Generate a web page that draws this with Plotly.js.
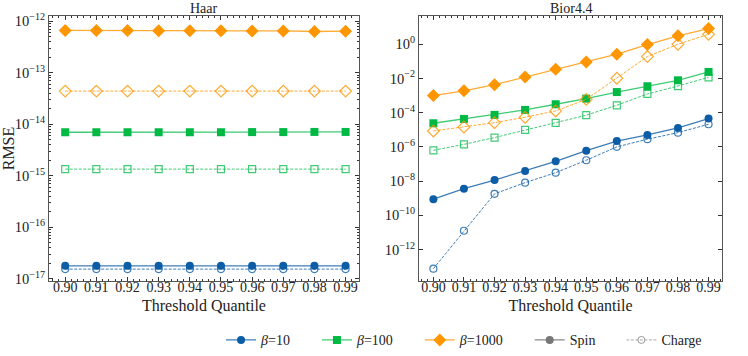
<!DOCTYPE html>
<html>
<head>
<meta charset="utf-8">
<script src="https://cdn.plot.ly/plotly-3.0.1.min.js"></script>
<style>
  body { margin: 0; background: #fff; }
  #chart { width: 748px; height: 356px; }
</style>
</head>
<body>
<div id="chart"></div>
<script>
document.addEventListener('DOMContentLoaded', function () {
    const quantiles = [0.90, 0.91, 0.92, 0.93, 0.94, 0.95, 0.96, 0.97, 0.98, 0.99];
    const quantileLabels = ['0.90', '0.91', '0.92', '0.93', '0.94', '0.95', '0.96', '0.97', '0.98', '0.99'];

    // Haar panel
    const haarSpin10 = [1.8e-17, 1.8e-17, 1.8e-17, 1.8e-17, 1.8e-17, 1.8e-17, 1.8e-17, 1.8e-17, 1.8e-17, 1.8e-17];
    const haarCharge10 = [1.55e-17, 1.55e-17, 1.55e-17, 1.55e-17, 1.55e-17, 1.55e-17, 1.55e-17, 1.55e-17, 1.55e-17, 1.55e-17];
    const haarSpin100 = [7.0e-15, 7.0e-15, 7.0e-15, 7.0e-15, 7.0e-15, 7.0e-15, 7.05e-15, 7.05e-15, 7.1e-15, 7.1e-15];
    const haarCharge100 = [1.35e-15, 1.35e-15, 1.35e-15, 1.35e-15, 1.35e-15, 1.35e-15, 1.35e-15, 1.35e-15, 1.35e-15, 1.35e-15];
    const haarSpin1000 = [6.6e-13, 6.6e-13, 6.6e-13, 6.55e-13, 6.5e-13, 6.5e-13, 6.45e-13, 6.45e-13, 6.3e-13, 6.4e-13];
    const haarCharge1000 = [4.4e-14, 4.4e-14, 4.4e-14, 4.4e-14, 4.4e-14, 4.4e-14, 4.4e-14, 4.4e-14, 4.4e-14, 4.4e-14];

    // Bior4.4 panel
    const biorSpin10 = [8.7e-10, 3.6e-9, 1.15e-8, 3.9e-8, 1.43e-7, 6.0e-7, 2.2e-6, 5.0e-6, 1.28e-5, 4.5e-5];
    const biorCharge10 = [7.6e-14, 1.25e-11, 1.8e-9, 8.1e-9, 3.1e-8, 1.65e-7, 1.0e-6, 2.8e-6, 6.8e-6, 2.1e-5];
    const biorSpin100 = [2.4e-5, 4.3e-5, 7.4e-5, 1.45e-4, 3.1e-4, 6.6e-4, 1.6e-3, 3.5e-3, 7.8e-3, 0.024];
    const biorCharge100 = [6.3e-7, 1.4e-6, 3.5e-6, 9.8e-6, 2.5e-5, 7.1e-5, 2.7e-4, 1.24e-3, 3.6e-3, 0.0117];
    const biorSpin1000 = [1.0e-3, 1.9e-3, 4.3e-3, 0.012, 0.034, 0.092, 0.26, 0.95, 3.1, 8.2];
    const biorCharge1000 = [8.5e-6, 1.45e-5, 2.6e-5, 5.4e-5, 1.26e-4, 6.0e-4, 0.0103, 0.19, 1.0, 3.8];

    // log tick positions and labels
    const haarTickVals = [1e-17, 1e-16, 1e-15, 1e-14, 1e-13, 1e-12];
    const haarTickText = ['10<sup>−17</sup>', '10<sup>−16</sup>', '10<sup>−15</sup>', '10<sup>−14</sup>', '10<sup>−13</sup>', '10<sup>−12</sup>'];
    const biorTickVals = [1e-12, 1e-10, 1e-8, 1e-6, 1e-4, 1e-2, 1];
    const biorTickText = ['10<sup>−12</sup>', '10<sup>−10</sup>', '10<sup>−8</sup>', '10<sup>−6</sup>', '10<sup>−4</sup>', '10<sup>−2</sup>', '10<sup>0</sup>'];

    const pad = '\u00A0\u00A0\u00A0\u00A0\u00A0\u00A0';
    const betaNames = ['<i>β</i>=10' + pad, '<i>β</i>=100' + pad, '<i>β</i>=1000' + pad];
    const colors = ['#0C5DA5', '#00B945', '#FF9500'];
    const lightColors = ['rgba(12,93,165,0.8)', 'rgba(0,185,69,0.75)', 'rgba(255,149,0,0.8)'];
    const symbols = ['circle', 'square', 'diamond'];
    const sizes = [8, 8, 10];

    const spinTrace = (y, i, xa, ya) => ({
        x: quantiles, y: y, xaxis: xa, yaxis: ya,
        mode: 'lines+markers', showlegend: false,
        line: {color: lightColors[i], width: 1.3},
        marker: {symbol: symbols[i], size: sizes[i], color: colors[i]}
    });
    const chargeTrace = (y, i, xa, ya) => ({
        x: quantiles, y: y, xaxis: xa, yaxis: ya,
        mode: 'lines+markers', showlegend: false,
        line: {color: lightColors[i], width: 1, dash: '3px,1.5px'},
        marker: {symbol: symbols[i] + '-open', size: sizes[i] - 1, color: lightColors[i], line: {width: 1.2}}
    });

    const haar = [[haarSpin10, haarCharge10], [haarSpin100, haarCharge100], [haarSpin1000, haarCharge1000]];
    const bior = [[biorSpin10, biorCharge10], [biorSpin100, biorCharge100], [biorSpin1000, biorCharge1000]];

    const data = [];
    for (let i = 0; i < 3; i++) {
        data.push(chargeTrace(haar[i][1], i, 'x', 'y'));
        data.push(spinTrace(haar[i][0], i, 'x', 'y'));
        data.push(chargeTrace(bior[i][1], i, 'x2', 'y2'));
        data.push(spinTrace(bior[i][0], i, 'x2', 'y2'));
    }

    // legend-only entries
    for (let i = 0; i < 3; i++) {
        data.push({
            x: [null], y: [null], mode: 'lines+markers', name: betaNames[i],
            line: {color: lightColors[i], width: 1.3},
            marker: {symbol: symbols[i], size: sizes[i], color: colors[i]}
        });
    }
    data.push({
        x: [null], y: [null], mode: 'lines+markers', name: 'Spin' + pad,
        line: {color: '#888', width: 1.3},
        marker: {symbol: 'circle', size: 8, color: '#777'}
    });
    data.push({
        x: [null], y: [null], mode: 'lines+markers', name: 'Charge',
        line: {color: '#aaa', width: 1, dash: '3px,1.5px'},
        marker: {symbol: 'circle-open', size: 7, color: '#999', line: {width: 1}}
    });

    const font = {family: "'Liberation Serif', 'DejaVu Serif', serif", color: '#222', size: 13};
    const xBase = {
        tickvals: quantiles, ticktext: quantileLabels,
        ticks: 'inside', ticklen: 4, tickcolor: '#333',
        showline: true, linecolor: '#555', linewidth: 1, mirror: 'ticks',
        showgrid: false, zeroline: false,
        minor: {ticks: 'inside', ticklen: 2, dtick: 0.002, tickcolor: '#333'},
        tickfont: {size: 14}, ticklabelstandoff: -7,
        title: {text: 'Threshold Quantile', font: {size: 16}, standoff: 6}
    };
    const yBase = {
        type: 'log',
        ticks: 'inside', ticklen: 4, tickcolor: '#333',
        showline: true, linecolor: '#555', linewidth: 1, mirror: 'ticks',
        showgrid: false, zeroline: false,
        tickfont: {size: 14.5}
    };

    const layout = {
        width: 748, height: 356,
        margin: {l: 49, r: 26, t: 16, b: 75},
        paper_bgcolor: '#fff', plot_bgcolor: '#fff',
        font: font,
        showlegend: true,
        legend: {orientation: 'h', xref: 'container', yref: 'container',
                 x: 0.2955, xanchor: 'left', y: 0.089, yanchor: 'top',
                 font: {size: 14}, itemwidth: 30},
        xaxis: Object.assign({}, xBase, {domain: [0, 0.4606], range: [0.8948, 0.9943], anchor: 'y'}),
        xaxis2: Object.assign({}, xBase, {domain: [0.5498, 1], range: [0.8953, 0.9944], anchor: 'y2'}),
        yaxis: Object.assign({}, yBase, {
            range: [-17.04, -11.9], tickvals: haarTickVals, ticktext: haarTickText, anchor: 'x',
            minor: {ticks: 'inside', ticklen: 2, dtick: 'D1', tickcolor: '#333'},
            title: {text: 'RMSE', font: {size: 16}, standoff: 3}
        }),
        yaxis2: Object.assign({}, yBase, {
            range: [-13.84, 1.65], tickvals: biorTickVals, ticktext: biorTickText, anchor: 'x2'
        }),
        annotations: [
            {text: 'Haar', xref: 'x domain', yref: 'paper', x: 0.5, y: 1, yanchor: 'bottom', yshift: -2, showarrow: false, font: {size: 14}},
            {text: 'Bior4.4', xref: 'x2 domain', yref: 'paper', x: 0.5, y: 1, yanchor: 'bottom', yshift: -2, showarrow: false, font: {size: 14}}
        ]
    };

    Plotly.newPlot('chart', data, layout, {displayModeBar: false, staticPlot: true});
});
</script>
</body>
</html>
